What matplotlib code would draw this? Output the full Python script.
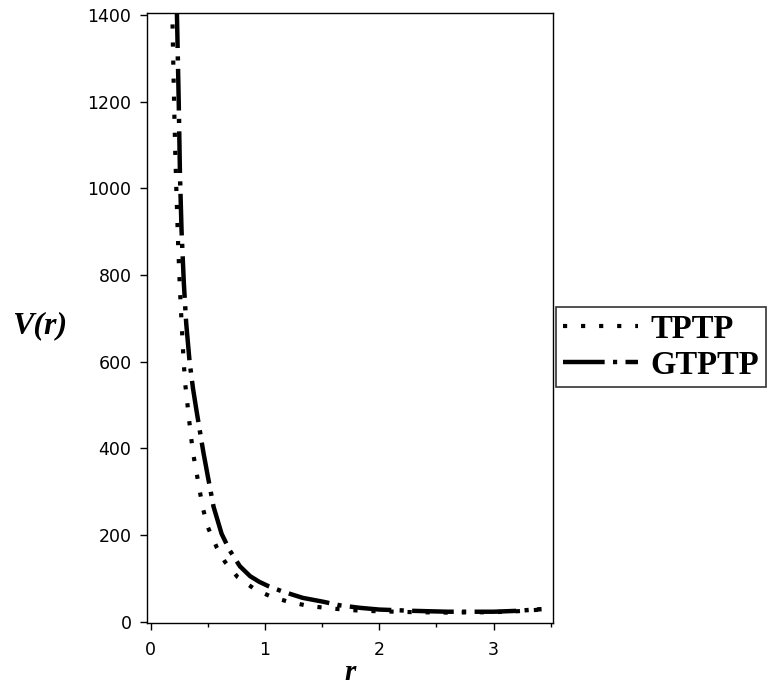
"""Potential V(r) for TPTP and GTPTP, redrawn from a Maple plot."""

import matplotlib

matplotlib.use("Agg")
import matplotlib.pyplot as plt

# values
r_gtptp = [0.228, 0.235, 0.245, 0.256, 0.27, 0.29, 0.31, 0.34, 0.37, 0.40,
           0.43, 0.46, 0.50, 0.55, 0.62, 0.69, 0.78, 0.87, 0.95, 1.03,
           1.15, 1.33, 1.51, 1.65, 1.83, 2.0, 2.3, 2.6, 3.0, 3.2, 3.42]
v_gtptp = [1420, 1330, 1200, 1030, 900, 780, 690, 600, 538, 488,
           440, 392, 335, 265, 203, 165, 128, 105, 92, 82,
           70, 55, 46, 38, 32, 28, 25, 23, 23, 25, 29]

r_tptp = [0.188, 0.195, 0.205, 0.215, 0.225, 0.24, 0.255, 0.27, 0.285, 0.30,
          0.318, 0.335, 0.353, 0.37, 0.405, 0.43, 0.46, 0.50, 0.58, 0.65,
          0.76, 0.91, 1.06, 1.22, 1.39, 1.6, 1.8, 2.0, 2.3, 2.6,
          3.0, 3.2, 3.42]
v_tptp = [1420, 1320, 1190, 1080, 990, 870, 770, 690, 615, 553,
          510, 468, 426, 390, 338, 300, 258, 218, 170, 138,
          103, 75, 57, 45, 36, 30, 26, 24, 22, 21,
          22, 24, 28]

x_ticks = [0, 1, 2, 3]
x_minor = [0.5, 1.5, 2.5, 3.5]
y_ticks = [0, 200, 400, 600, 800, 1000, 1200, 1400]
series_names = ["TPTP", "GTPTP"]

plt.rcParams["lines.scale_dashes"] = False

fig = plt.figure(figsize=(7.67, 6.89), dpi=100)
ax = fig.add_axes([0.1913, 0.0958, 0.721 - 0.1913, 0.9807 - 0.0958])

ax.plot(r_tptp, v_tptp, color="black", linewidth=3.0,
        dashes=(3, 10), dash_capstyle="butt", label=series_names[0])
ax.plot(r_gtptp, v_gtptp, color="black", linewidth=3.2,
        dashes=(30, 6, 3, 6), dash_capstyle="butt", label=series_names[1])

ax.set_xlim(-0.035, 3.52)
ax.set_ylim(-3, 1404)
ax.set_xticks(x_ticks)
ax.set_xticks(x_minor, minor=True)
ax.set_yticks(y_ticks)
ax.tick_params(axis="both", which="major", direction="out", length=5,
               width=1.0, labelsize=12.5, colors="black")
ax.tick_params(axis="y", which="major", pad=6)
ax.tick_params(axis="x", which="major", pad=8)
ax.tick_params(axis="x", which="minor", direction="out", length=3, width=1.0)
ax.tick_params(top=False, right=False)
for spine in ax.spines.values():
    spine.set_linewidth(1.0)

ax.set_xlabel("r", fontsize=21, fontweight="bold", fontstyle="italic",
              family="Liberation Serif", labelpad=0)
fig.text(0.052, 0.527, "V(r)", fontsize=23, fontweight="bold",
         fontstyle="italic", family="Liberation Serif",
         ha="center", va="center")

leg = fig.legend(loc="center left", bbox_to_anchor=(0.725, 0.496),
                 frameon=True, fancybox=False, handlelength=2.3,
                 handletextpad=0.4, borderpad=0.2, labelspacing=0.15,
                 borderaxespad=0.0,
                 prop={"family": "Liberation Serif", "weight": "bold",
                       "size": 23.5})
leg.get_frame().set_edgecolor("black")
leg.get_frame().set_linewidth(1.2)

fig.savefig("out.png", dpi=100)
